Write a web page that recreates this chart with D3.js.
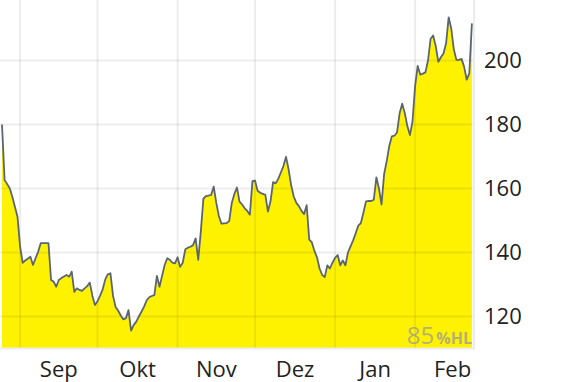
<!DOCTYPE html>
<html><head><meta charset="utf-8">
<script src="https://cdn.jsdelivr.net/npm/d3@7"></script>
<style>
html,body{margin:0;padding:0;background:#fff;}
svg{display:block;font-family:"Open Sans",sans-serif;}
</style></head>
<body><svg id="c" width="570" height="382"></svg>
<script>
const dates = [
"2023-08-25","2023-08-26","2023-08-28","2023-08-29","2023-08-30","2023-08-31",
"2023-09-01","2023-09-02","2023-09-03","2023-09-05","2023-09-06","2023-09-07","2023-09-08","2023-09-09",
"2023-09-12","2023-09-13","2023-09-14","2023-09-15","2023-09-16","2023-09-17","2023-09-19","2023-09-20",
"2023-09-21","2023-09-22","2023-09-23","2023-09-24","2023-09-25","2023-09-26","2023-09-27","2023-09-28","2023-09-29","2023-09-30",
"2023-10-01","2023-10-02","2023-10-03","2023-10-04","2023-10-05","2023-10-06","2023-10-07","2023-10-08","2023-10-09","2023-10-10",
"2023-10-11","2023-10-12","2023-10-13","2023-10-14","2023-10-15","2023-10-16","2023-10-17","2023-10-18","2023-10-19","2023-10-20",
"2023-10-21","2023-10-22","2023-10-23","2023-10-24","2023-10-25","2023-10-26","2023-10-27","2023-10-28","2023-10-29","2023-10-30","2023-10-31",
"2023-11-01","2023-11-02","2023-11-03","2023-11-04","2023-11-05","2023-11-06","2023-11-07","2023-11-08","2023-11-09","2023-11-10",
"2023-11-11","2023-11-12","2023-11-13","2023-11-14","2023-11-15","2023-11-16","2023-11-17","2023-11-18","2023-11-19","2023-11-20",
"2023-11-21","2023-11-22","2023-11-23","2023-11-24","2023-11-25","2023-11-26","2023-11-27","2023-11-28","2023-11-29","2023-11-30",
"2023-12-01","2023-12-02","2023-12-03","2023-12-04","2023-12-05","2023-12-06","2023-12-07","2023-12-08","2023-12-09","2023-12-10",
"2023-12-11","2023-12-12","2023-12-13","2023-12-14","2023-12-15","2023-12-16","2023-12-17","2023-12-18","2023-12-19","2023-12-20",
"2023-12-21","2023-12-22","2023-12-23","2023-12-24","2023-12-25","2023-12-26","2023-12-27","2023-12-28","2023-12-29","2023-12-30","2023-12-31",
"2024-01-01","2024-01-02","2024-01-03","2024-01-04","2024-01-05","2024-01-06","2024-01-07","2024-01-08","2024-01-09","2024-01-10",
"2024-01-11","2024-01-12","2024-01-13","2024-01-14","2024-01-15","2024-01-16","2024-01-17","2024-01-18","2024-01-19","2024-01-20",
"2024-01-21","2024-01-22","2024-01-23","2024-01-24","2024-01-25","2024-01-26","2024-01-27","2024-01-28","2024-01-29","2024-01-30","2024-01-31",
"2024-02-01","2024-02-02","2024-02-03","2024-02-04","2024-02-05","2024-02-06","2024-02-07","2024-02-08","2024-02-09","2024-02-10",
"2024-02-11","2024-02-12","2024-02-13","2024-02-14","2024-02-15","2024-02-16","2024-02-17","2024-02-18","2024-02-19","2024-02-20",
"2024-02-21","2024-02-22","2024-02-23"
];
const values = [
180,162.7,160.1,157.4,154.3,151.2,
142,136.8,137.5,138.7,136.1,138.2,140.2,142.9,
142.9,131.4,130.9,129.3,131.4,132,133,132.4,
134,127.7,128.8,128.3,128,128.8,129.5,130.6,126.5,123.6,
124.8,126.5,128.5,131.6,133.2,133.5,126.5,123,121.8,120.3,
119.1,119.5,122,115.6,117.3,118.4,120,121.5,123,125,
126,126.4,126.7,132.7,129.3,132.7,136.1,138.2,137.7,136.8,136.6,
138.5,135.5,136.8,141,141.5,141.8,142.3,144.4,137.7,146.5,
156.8,157.6,157.8,158,160.6,155.5,151.4,149,149.1,149.2,
149.8,155.5,158.3,160.3,155.9,155,153.8,153,151.8,162.3,
162.5,159.3,158.7,158.3,158,152.8,156,162,161.6,163,
165,167,169.9,166,161,157.5,155.5,154.5,153,152,
154.8,144,143.2,140.5,138.5,135,133,132.3,136,135,136.8,
138.3,139.2,136,137.5,136,140,141.9,143.8,146,148.4,
149.2,152.5,156,156.1,156.1,156.5,163.5,160,155,164.5,
168.5,173.3,176.3,176.5,177.5,183.5,186.5,183.6,179.5,176.7,181,
192,198.3,195.6,195.9,196.3,200,206.8,207.8,204.5,199.6,
201,202.2,205.4,213.5,210,203.5,200.2,200.2,200.5,198,
194,196,211.6
];
const yTicks = [120,140,160,180,200];
const monthStarts = ["2023-09-01","2023-10-01","2023-11-01","2023-12-01","2024-01-01","2024-02-01","2024-03-01"];
const monthLabels = ["Sep","Okt","Nov","Dez","Jan","Feb"];
const watermarkMain = "85";
const watermarkSub = "%HL";

const parse = d3.utcParse("%Y-%m-%d");
const data = dates.map((d,i)=>({date:parse(d), value:values[i]}));

const svg = d3.select("#c");
const plotLeft = 2, plotRight = 474, plotBottom = 348;
const x = d3.scaleUtc().domain([parse(dates[0]), parse(dates[dates.length-1])]).range([2, 471.9]);
const y = d3.scaleLinear().domain([110, 200]).range([348.5, 60.5]);

// area
svg.append("path").datum(data)
  .attr("fill","#fff200")
  .attr("d", d3.area().x(d=>x(d.date)).y0(plotBottom).y1(d=>y(d.value)));

// grid
const grid = svg.append("g").attr("stroke","rgba(0,0,0,0.07)").attr("stroke-width",2);
grid.selectAll("line.h").data(yTicks).join("line")
  .attr("x1",0).attr("x2",plotRight).attr("y1",d=>y(d)).attr("y2",d=>y(d));
grid.selectAll("line.v").data(monthStarts.slice(0,6)).join("line")
  .attr("x1",d=>x(parse(d))).attr("x2",d=>x(parse(d))).attr("y1",0).attr("y2",plotBottom);

// frame
svg.append("line").attr("x1",0).attr("x2",plotRight+1).attr("y1",plotBottom+0.5).attr("y2",plotBottom+0.5)
  .attr("stroke","#ececec").attr("stroke-width",2);
svg.append("line").attr("x1",plotRight).attr("x2",plotRight).attr("y1",0).attr("y2",plotBottom)
  .attr("stroke","#ececec").attr("stroke-width",2);

// line
svg.append("path").datum(data)
  .attr("fill","none").attr("stroke","#5b6570").attr("stroke-width",1.8).attr("stroke-linejoin","round")
  .attr("d", d3.line().x(d=>x(d.date)).y(d=>y(d.value)));

// y axis labels
svg.append("g").selectAll("text").data(yTicks).join("text")
  .attr("x",484).attr("y",d=>y(d)).attr("dy","0.36em")
  .attr("font-size",22).attr("fill","#222").text(d=>d);

// x labels
svg.append("g").selectAll("text").data(monthLabels).join("text")
  .attr("x",(d,i)=>(x(parse(monthStarts[i]))+x(parse(monthStarts[i+1])))/2)
  .attr("y",369).attr("dy","0.36em").attr("text-anchor","middle")
  .attr("font-size",22).attr("fill","#222").text(d=>d);

// watermark
const wm = svg.append("text").attr("x",472).attr("y",344).attr("text-anchor","end").attr("fill","#9a9a9a").attr("fill-opacity",0.75);
wm.append("tspan").attr("font-size",24).text(watermarkMain);
wm.append("tspan").attr("font-size",16).attr("font-weight","bold").attr("dx",2).text(watermarkSub);
</script></body></html>
